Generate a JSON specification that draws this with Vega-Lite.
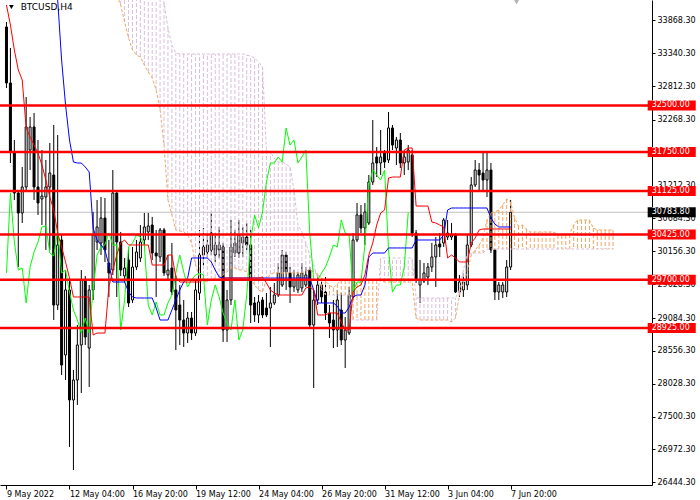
{
  "$schema": "https://vega.github.io/schema/vega-lite/v6.json",
  "width": 652,
  "height": 485,
  "autosize": {"type": "none"},
  "padding": {"left": 0, "top": 0, "right": 48, "bottom": 15},
  "background": "#ffffff",
  "config": {
    "view": {"stroke": null},
    "font": "DejaVu Sans",
    "axis": {"grid": false, "domainColor": "#000000", "tickColor": "#000000", "labelColor": "#000000", "labelFont": "DejaVu Sans", "labelFontSize": 8, "labelOverlap": false, "labelFlush": false}
  },
  "datasets": {
    "bars": [
      {"i":0,"o":33761,"h":33841,"l":32780,"c":32861,"tk":34114,"ck":29808},
      {"i":1,"o":32861,"h":33423,"l":31575,"c":31752,"tk":33793,"ck":31093},
      {"i":2,"o":31752,"h":31945,"l":30981,"c":31093,"tk":33391,"ck":30306},
      {"i":3,"o":31093,"h":31141,"l":29904,"c":30772,"tk":33070,"ck":29856},
      {"i":4,"o":30772,"h":31511,"l":30611,"c":31190,"tk":32909,"ck":29888},
      {"i":5,"o":31190,"h":32636,"l":31141,"c":32154,"tk":32138,"ck":29326},
      {"i":6,"o":31784,"h":32314,"l":31463,"c":32154,"tk":31993,"ck":29904},
      {"i":7,"o":32154,"h":32379,"l":30981,"c":31190,"tk":31865,"ck":30145},
      {"i":8,"o":31190,"h":31945,"l":30740,"c":30933,"tk":31736,"ck":30306},
      {"i":9,"o":30997,"h":31784,"l":30579,"c":31045,"tk":31543,"ck":30547},
      {"i":10,"o":31029,"h":31624,"l":30177,"c":31190,"tk":31302,"ck":30563},
      {"i":11,"o":31190,"h":31897,"l":30177,"c":31415,"tk":31029,"ck":30129},
      {"i":12,"o":31382,"h":32186,"l":29052,"c":29293,"tk":30820,"ck":30081},
      {"i":13,"o":29293,"h":32025,"l":29213,"c":30258,"tk":30450,"kj":34194,"ck":30499},
      {"i":14,"o":30338,"h":30418,"l":28169,"c":28329,"tk":30225,"kj":33230,"ck":29808},
      {"i":15,"o":28490,"h":29856,"l":28088,"c":29535,"tk":29985,"kj":32507,"ck":29856},
      {"i":16,"o":29535,"h":29695,"l":27012,"c":27767,"tk":29727,"kj":31945,"ck":29502},
      {"i":17,"o":27767,"h":28249,"l":26642,"c":28088,"tk":29422,"kj":31591,"ck":29213},
      {"i":18,"o":28088,"h":28972,"l":27687,"c":28651,"tk":29422,"kj":31575,"ck":29052},
      {"i":19,"o":28651,"h":29856,"l":27879,"c":29695,"tk":29422,"kj":31575,"ck":28843},
      {"i":20,"o":29695,"h":29760,"l":28651,"c":28779,"tk":29422,"kj":31511,"ck":29084},
      {"i":21,"o":28602,"h":29615,"l":27976,"c":29535,"tk":29422,"kj":31431,"ck":28843},
      {"i":22,"o":29535,"h":30788,"l":29374,"c":30418,"tk":28811,"kj":30531,"ck":29535},
      {"i":23,"o":30306,"h":30981,"l":30177,"c":30547,"tk":28843,"kj":30338,"ck":30097},
      {"i":24,"o":30290,"h":31029,"l":30097,"c":30691,"tk":28843,"kj":30258,"ck":30226},
      {"i":25,"o":30691,"h":31013,"l":29985,"c":30177,"tk":28843,"kj":30177,"ck":30258},
      {"i":26,"o":29968,"h":30338,"l":29422,"c":29808,"tk":29583,"kj":29936,"ck":30450},
      {"i":27,"o":29856,"h":31463,"l":29776,"c":31093,"tk":29856,"kj":29663,"ck":30258},
      {"i":28,"o":31093,"h":31141,"l":29422,"c":30306,"tk":30097,"kj":29663,"ck":30258,"sa":34275,"sb":34400},
      {"i":29,"o":30306,"h":30467,"l":29760,"c":29856,"tk":30290,"kj":29663,"ck":28892,"sa":34114,"sb":34400},
      {"i":30,"o":29760,"h":30049,"l":29663,"c":29888,"tk":30338,"kj":29663,"ck":29374,"sa":33841,"sb":34400},
      {"i":31,"o":30017,"h":30226,"l":29261,"c":29326,"tk":30258,"kj":29502,"ck":30226,"sa":33584,"sb":34400},
      {"i":32,"o":29374,"h":30226,"l":29326,"c":29904,"tk":30258,"kj":29422,"ck":30290,"sa":33391,"sb":34400},
      {"i":33,"o":29904,"h":30338,"l":29856,"c":30145,"tk":30258,"kj":29406,"ck":30418,"sa":33310,"sb":34400},
      {"i":34,"o":30049,"h":30579,"l":29985,"c":30306,"tk":30258,"kj":29406,"ck":30386,"sa":33278,"sb":34400},
      {"i":35,"o":30338,"h":30772,"l":30258,"c":30547,"tk":30258,"kj":29406,"ck":30258,"sa":33150,"sb":34400},
      {"i":36,"o":30467,"h":30772,"l":30338,"c":30563,"tk":30258,"kj":29406,"ck":29293,"sa":33038,"sb":34400},
      {"i":37,"o":30579,"h":30708,"l":30017,"c":30129,"tk":29936,"kj":29406,"ck":29133,"sa":32941,"sb":34400},
      {"i":38,"o":30129,"h":30499,"l":29422,"c":30081,"tk":29936,"kj":29245,"ck":29342,"sa":32748,"sb":34400},
      {"i":39,"o":30065,"h":30531,"l":29985,"c":30499,"tk":29936,"kj":29052,"ck":29133,"sa":32427,"sb":34300},
      {"i":40,"o":30499,"h":30531,"l":29760,"c":29808,"tk":29936,"kj":29052,"ck":29133,"sa":31865,"sb":34162},
      {"i":41,"o":29776,"h":30097,"l":29695,"c":29856,"tk":30097,"kj":29052,"ck":29326,"sa":30981,"sb":33745},
      {"i":42,"o":29888,"h":30290,"l":29454,"c":29502,"tk":30097,"kj":29213,"ck":29454,"sa":30740,"sb":33471},
      {"i":43,"o":29535,"h":29776,"l":28570,"c":29213,"tk":29743,"kj":29374,"ck":29808,"sa":30499,"sb":33343},
      {"i":44,"o":29293,"h":29615,"l":28651,"c":29052,"tk":29663,"kj":29535,"ck":30097,"sa":30483,"sb":33327},
      {"i":45,"o":29052,"h":29374,"l":28619,"c":28843,"tk":29663,"kj":29663,"ck":29824,"sa":30467,"sb":33327},
      {"i":46,"o":28843,"h":29181,"l":28683,"c":29084,"tk":29663,"kj":29727,"ck":29583,"sa":30418,"sb":33327},
      {"i":47,"o":29084,"h":29181,"l":28731,"c":28843,"tk":29663,"kj":30049,"ck":29695,"sa":30290,"sb":33327},
      {"i":48,"o":28843,"h":29695,"l":28795,"c":29535,"tk":29663,"kj":30049,"ck":29776,"sa":29936,"sb":33327},
      {"i":49,"o":29486,"h":30499,"l":29374,"c":30097,"tk":29663,"kj":30049,"ck":29808,"sa":29743,"sb":33327},
      {"i":50,"o":30097,"h":30531,"l":29936,"c":30226,"tk":29695,"kj":30049,"ck":29776,"sa":29679,"sb":33327},
      {"i":51,"o":30145,"h":30450,"l":30049,"c":30258,"tk":29695,"kj":30049,"ck":28972,"sa":29663,"sb":33327},
      {"i":52,"o":30177,"h":30772,"l":30097,"c":30450,"tk":29695,"kj":29985,"ck":29374,"sa":29695,"sb":33327},
      {"i":53,"o":30097,"h":30450,"l":29985,"c":30258,"tk":29695,"kj":29856,"ck":29615,"sa":29727,"sb":33327},
      {"i":54,"o":30177,"h":30547,"l":30049,"c":30258,"tk":29695,"kj":29743,"ck":29422,"sa":29727,"sb":33327},
      {"i":55,"o":30226,"h":30290,"l":28699,"c":28892,"tk":29727,"kj":29727,"ck":29165,"sa":29776,"sb":33327},
      {"i":56,"o":28892,"h":29535,"l":28699,"c":29374,"tk":29727,"kj":29727,"ck":29004,"sa":29824,"sb":33327},
      {"i":57,"o":29374,"h":30659,"l":29293,"c":30226,"tk":29727,"kj":29727,"ck":28892,"sa":29888,"sb":33327},
      {"i":58,"o":30129,"h":30499,"l":30065,"c":30290,"tk":29727,"kj":29727,"ck":29374,"sa":29888,"sb":33327},
      {"i":59,"o":30129,"h":30659,"l":30049,"c":30418,"tk":29727,"kj":29727,"ck":28731,"sa":29856,"sb":33327},
      {"i":60,"o":30290,"h":30547,"l":30065,"c":30386,"tk":29727,"kj":29727,"ck":28892,"sa":29856,"sb":33327},
      {"i":61,"o":30386,"h":30611,"l":30177,"c":30258,"tk":29727,"kj":29727,"ck":29454,"sa":29824,"sb":33310},
      {"i":62,"o":30258,"h":30499,"l":29004,"c":29293,"tk":29727,"kj":29727,"ck":30338,"sa":29727,"sb":33294},
      {"i":63,"o":29326,"h":29422,"l":29020,"c":29133,"tk":29727,"kj":29727,"ck":30740,"sa":29615,"sb":33262},
      {"i":64,"o":29133,"h":29454,"l":29004,"c":29342,"tk":29727,"kj":29727,"ck":30531,"sa":29535,"sb":33198},
      {"i":65,"o":29374,"h":29422,"l":29084,"c":29133,"tk":29743,"kj":29727,"ck":30788,"sa":29502,"sb":33118},
      {"i":66,"o":29245,"h":29486,"l":29100,"c":29133,"tk":29647,"kj":29727,"ck":31270,"sa":29695,"sb":31784},
      {"i":67,"o":29245,"h":29583,"l":28619,"c":29326,"tk":29535,"kj":29727,"ck":31575,"sa":29792,"sb":31752},
      {"i":68,"o":29326,"h":29647,"l":29293,"c":29454,"tk":29486,"kj":29727,"ck":31575,"sa":29808,"sb":31656},
      {"i":69,"o":29454,"h":29968,"l":29422,"c":29808,"tk":29454,"kj":29727,"ck":31672,"sa":29808,"sb":31591},
      {"i":70,"o":29615,"h":30177,"l":29583,"c":30097,"tk":29454,"kj":29727,"ck":31591,"sa":29808,"sb":31591},
      {"i":71,"o":30097,"h":30145,"l":29535,"c":29824,"tk":29454,"kj":29727,"ck":32138,"sa":29808,"sb":31559},
      {"i":72,"o":29808,"h":29904,"l":29326,"c":29583,"tk":29454,"kj":29727,"ck":31864,"sa":29808,"sb":31511},
      {"i":73,"o":29583,"h":29856,"l":29502,"c":29695,"tk":29454,"kj":29727,"ck":31945,"sa":29808,"sb":31141},
      {"i":74,"o":29535,"h":29824,"l":29486,"c":29776,"tk":29454,"kj":29727,"ck":31575,"sa":29808,"sb":30579},
      {"i":75,"o":29567,"h":29968,"l":29502,"c":29808,"tk":29454,"kj":29727,"ck":31672,"sa":29808,"sb":30467},
      {"i":76,"o":29615,"h":29904,"l":29583,"c":29776,"tk":29567,"kj":29727,"ck":31784,"sa":29840,"sb":30290},
      {"i":77,"o":29856,"h":29904,"l":28940,"c":28972,"tk":29583,"kj":29727,"ck":30450,"sa":29856,"sb":30097},
      {"i":78,"o":28972,"h":29535,"l":27960,"c":29374,"tk":29535,"kj":29535,"ck":29695,"sa":29824,"sb":29936},
      {"i":79,"o":29374,"h":29776,"l":29293,"c":29615,"tk":29133,"kj":29326,"ck":29695,"sa":29792,"sb":29727},
      {"i":80,"o":29615,"h":29727,"l":29326,"c":29422,"tk":29133,"kj":29326,"ck":29808,"sa":29727,"sb":29535},
      {"i":81,"o":29502,"h":29743,"l":29052,"c":29165,"tk":29133,"kj":29326,"ck":29904,"sa":29679,"sb":29454},
      {"i":82,"o":29165,"h":29293,"l":28763,"c":29004,"tk":29165,"kj":29326,"ck":30065,"sa":29615,"sb":29454},
      {"i":83,"o":29052,"h":29374,"l":28602,"c":28892,"tk":29165,"kj":29326,"ck":30258,"sa":29567,"sb":29454},
      {"i":84,"o":28892,"h":29535,"l":28619,"c":29374,"tk":29165,"kj":29277,"ck":30226,"sa":29631,"sb":29454},
      {"i":85,"o":29213,"h":29486,"l":28651,"c":28731,"tk":29020,"kj":29165,"ck":30659,"sa":29695,"sb":29454},
      {"i":86,"o":28731,"h":29100,"l":28281,"c":28892,"tk":28892,"kj":29165,"ck":30450,"sa":29695,"sb":29454},
      {"i":87,"o":28843,"h":29583,"l":28811,"c":29454,"tk":28892,"kj":29261,"ck":30418,"sa":29695,"sb":29454},
      {"i":88,"o":29422,"h":30450,"l":29374,"c":30338,"tk":29502,"kj":29422,"ck":29502,"sa":29695,"sb":29052},
      {"i":89,"o":30338,"h":30933,"l":30306,"c":30740,"tk":29583,"kj":29454,"ck":29663,"sa":29631,"sb":29052},
      {"i":90,"o":30740,"h":30900,"l":30450,"c":30531,"tk":29615,"kj":29454,"ck":29663,"sa":29663,"sb":29052},
      {"i":91,"o":30531,"h":30933,"l":30258,"c":30788,"tk":29776,"kj":29615,"ck":30258,"sa":29695,"sb":29052},
      {"i":92,"o":30611,"h":31382,"l":30579,"c":31270,"tk":30097,"kj":30065,"ck":31222,"sa":29695,"sb":29052},
      {"i":93,"o":31270,"h":32266,"l":31222,"c":31575,"tk":30290,"kj":30129,"ck":31463,"sa":29695,"sb":29052},
      {"i":94,"o":31672,"h":31832,"l":31350,"c":31575,"tk":30579,"kj":30129,"ck":31382,"sa":29695,"sb":29052},
      {"i":95,"o":31575,"h":32106,"l":31382,"c":31672,"tk":30772,"kj":30129,"ck":31302,"sa":29679,"sb":30049},
      {"i":96,"o":31736,"h":31784,"l":31495,"c":31591,"tk":30820,"kj":30129,"ck":31463,"sa":29663,"sb":30049},
      {"i":97,"o":31624,"h":32395,"l":31575,"c":32138,"tk":31334,"kj":30210,"ck":30177,"sa":29663,"sb":30049},
      {"i":98,"o":32138,"h":32186,"l":31784,"c":31864,"tk":31350,"kj":30210,"ck":29502,"sa":29663,"sb":30049},
      {"i":99,"o":31816,"h":31993,"l":31543,"c":31945,"tk":31350,"kj":30210,"ck":29615,"sa":29663,"sb":30049},
      {"i":100,"o":31945,"h":32057,"l":31495,"c":31575,"tk":31350,"kj":30210,"ck":29615,"sa":29663,"sb":30049},
      {"i":101,"o":31575,"h":31752,"l":31382,"c":31672,"tk":31784,"kj":30210,"ck":29904,"sa":29663,"sb":30049},
      {"i":102,"o":31591,"h":31864,"l":31463,"c":31784,"tk":31816,"kj":30210,"ck":30784,"sa":29663,"sb":30049},
      {"i":103,"o":31704,"h":31784,"l":30386,"c":30450,"tk":31816,"kj":30210,"sa":29663,"sb":30049},
      {"i":104,"o":30450,"h":30499,"l":29647,"c":29695,"tk":30884,"kj":30338,"sa":29084,"sb":29406},
      {"i":105,"o":29615,"h":30017,"l":29326,"c":29695,"tk":30884,"kj":30338,"sa":29052,"sb":29406},
      {"i":106,"o":29679,"h":29968,"l":29647,"c":29808,"tk":30884,"kj":30338,"sa":29052,"sb":29406},
      {"i":107,"o":29743,"h":29968,"l":29615,"c":29904,"tk":30884,"kj":30338,"sa":29052,"sb":29406},
      {"i":108,"o":29904,"h":30290,"l":29824,"c":30065,"tk":30627,"kj":30338,"sa":29052,"sb":29406},
      {"i":109,"o":30065,"h":30386,"l":29583,"c":30258,"tk":30611,"kj":30338,"sa":29052,"sb":29406},
      {"i":110,"o":30274,"h":30450,"l":30065,"c":30226,"tk":30579,"kj":30338,"sa":29052,"sb":29406},
      {"i":111,"o":30290,"h":30691,"l":30226,"c":30659,"tk":30547,"kj":30418,"sa":29052,"sb":29406},
      {"i":112,"o":30386,"h":30659,"l":30338,"c":30450,"tk":30049,"kj":30820,"sa":29052,"sb":29406},
      {"i":113,"o":30386,"h":30611,"l":30338,"c":30418,"tk":30097,"kj":30852,"sa":29020,"sb":29406},
      {"i":114,"o":30418,"h":30450,"l":29486,"c":29502,"tk":30049,"kj":30852,"sa":29084,"sb":29406},
      {"i":115,"o":29502,"h":29776,"l":29422,"c":29663,"tk":29985,"kj":30852,"sa":29454,"sb":29535},
      {"i":116,"o":29535,"h":29808,"l":29422,"c":29663,"tk":29985,"kj":30852,"sa":29647,"sb":29856},
      {"i":117,"o":29615,"h":30418,"l":29535,"c":30258,"tk":29985,"kj":30852,"sa":29824,"sb":30097},
      {"i":118,"o":30258,"h":31350,"l":30226,"c":31222,"tk":30290,"kj":30852,"sa":30097,"sb":30129},
      {"i":119,"o":31222,"h":31624,"l":31190,"c":31463,"tk":30370,"kj":30852,"sa":30177,"sb":30129},
      {"i":120,"o":31463,"h":31575,"l":31141,"c":31382,"tk":30499,"kj":30852,"sa":30258,"sb":30129},
      {"i":121,"o":31415,"h":31752,"l":31141,"c":31302,"tk":30515,"kj":30852,"sa":30370,"sb":30129},
      {"i":122,"o":31302,"h":31736,"l":31029,"c":31463,"tk":30515,"kj":30852,"sa":30659,"sb":30193},
      {"i":123,"o":31463,"h":31575,"l":30129,"c":30177,"tk":30515,"kj":30691,"sa":30772,"sb":30193},
      {"i":124,"o":30177,"h":30177,"l":29374,"c":29502,"tk":30515,"kj":30595,"sa":30788,"sb":30193},
      {"i":125,"o":29502,"h":29663,"l":29374,"c":29615,"tk":30515,"kj":30547,"sa":30820,"sb":30193},
      {"i":126,"o":29502,"h":29663,"l":29406,"c":29615,"tk":30515,"kj":30547,"sa":30900,"sb":30193},
      {"i":127,"o":29502,"h":30017,"l":29422,"c":29904,"tk":30515,"kj":30547,"sa":30997,"sb":30193},
      {"i":128,"o":29904,"h":30981,"l":29856,"c":30783.8,"tk":30515,"kj":30547,"sa":30949,"sb":30193},
      {"i":129,"sa":30691,"sb":30193},
      {"i":130,"sa":30563,"sb":30193},
      {"i":131,"sa":30579,"sb":30193},
      {"i":132,"sa":30515,"sb":30193},
      {"i":133,"sa":30467,"sb":30193},
      {"i":134,"sa":30467,"sb":30193},
      {"i":135,"sa":30467,"sb":30193},
      {"i":136,"sa":30467,"sb":30193},
      {"i":137,"sa":30467,"sb":30193},
      {"i":138,"sa":30467,"sb":30193},
      {"i":139,"sa":30467,"sb":30193},
      {"i":140,"sa":30418,"sb":30193},
      {"i":141,"sa":30418,"sb":30193},
      {"i":142,"sa":30418,"sb":30193},
      {"i":143,"sa":30434,"sb":30193},
      {"i":144,"sa":30579,"sb":30193},
      {"i":145,"sa":30659,"sb":30193},
      {"i":146,"sa":30659,"sb":30193},
      {"i":147,"sa":30659,"sb":30193},
      {"i":148,"sa":30659,"sb":30193},
      {"i":149,"sa":30531,"sb":30193},
      {"i":150,"sa":30499,"sb":30193},
      {"i":151,"sa":30499,"sb":30193},
      {"i":152,"sa":30499,"sb":30193},
      {"i":153,"sa":30499,"sb":30193},
      {"i":154,"sa":30499,"sb":30193}
    ],
    "levels": [
      {"level": 32500},
      {"level": 31750},
      {"level": 31125},
      {"level": 30425},
      {"level": 29700},
      {"level": 28925}
    ],
    "price": [{"level": 30783.8}],
    "caption": [{"name": "BTCUSD,H4"}]
  },
  "data": {"name": "bars"},
  "layer": [
    {
      "data": {"name": "price"},
      "mark": {"type": "rule", "color": "#c0c0c0", "strokeWidth": 1},
      "encoding": {
        "y": {
          "field": "level", "type": "quantitative",
          "scale": {"domain": [26401, 34194.5], "nice": false, "zero": false},
          "axis": {
            "orient": "right", "title": null, "grid": false, "tickCount": 40,
            "values": [33868.3, 33340.3, 32812.3, 32268.3, 31740.3, 31212.3, 30684.3, 30156.3, 29628.3, 29084.3, 28556.3, 28028.3, 27500.3, 26972.3, 26444.3],
            "format": ".2f",
            "domainColor": "#000000", "tickColor": "#000000", "tickSize": 3,
            "labelPadding": 2, "labelFont": "DejaVu Sans", "labelFontSize": 8,
            "labelColor": "#000000", "labelFlush": false, "labelOverlap": false
          }
        }
      }
    },
    {
      "transform": [{"filter": "isValid(datum.o)"}],
      "mark": {"type": "rule", "color": "#000000", "strokeWidth": 1},
      "encoding": {
        "x": {
          "field": "i", "type": "quantitative",
          "scale": {"domain": [-0.375, 162.625], "nice": false, "zero": false},
          "axis": {
            "orient": "bottom", "title": null, "grid": false, "tickCount": 40,
            "values": [0, 16, 32, 48, 64, 80, 96, 112, 128],
            "labelExpr": "['9 May 2022','12 May 04:00','16 May 20:00','19 May 12:00','24 May 04:00','26 May 20:00','31 May 12:00','3 Jun 04:00','7 Jun 20:00'][round(datum.value / 16)]",
            "domainColor": "#000000", "tickColor": "#000000", "tickSize": 4,
            "labelAlign": "left", "labelBaseline": "top", "labelPadding": 1,
            "labelFont": "DejaVu Sans", "labelFontSize": 8, "labelColor": "#000000",
            "labelFlush": false, "labelOverlap": false
          }
        },
        "y": {"field": "l", "type": "quantitative", "scale": {"domain": [26401, 34194.5], "nice": false, "zero": false}},
        "y2": {"field": "h"}
      }
    },
    {
      "transform": [{"filter": "isValid(datum.o)"}],
      "mark": {"type": "bar", "width": 2, "stroke": "#000000", "strokeWidth": 1},
      "encoding": {
        "x": {"field": "i", "type": "quantitative", "scale": {"domain": [-0.375, 162.625], "nice": false, "zero": false}},
        "y": {"field": "o", "type": "quantitative", "scale": {"domain": [26401, 34194.5], "nice": false, "zero": false}},
        "y2": {"field": "c"},
        "fill": {"condition": {"test": "datum.c < datum.o", "value": "#000000"}, "value": "#ffffff"}
      }
    },
    {
      "transform": [{"filter": "isValid(datum.sa) && isValid(datum.sb)"}],
      "mark": {"type": "rule", "strokeWidth": 1, "strokeDash": [4, 2], "clip": true},
      "encoding": {
        "x": {"field": "i", "type": "quantitative", "scale": {"domain": [-0.375, 162.625], "nice": false, "zero": false}},
        "y": {"field": "sa", "type": "quantitative", "scale": {"domain": [26401, 34194.5], "nice": false, "zero": false}},
        "y2": {"field": "sb"},
        "color": {"condition": {"test": "datum.sa > datum.sb", "value": "#f4a460"}, "value": "#d8bfd8"}
      }
    },
    {
      "transform": [{"filter": "isValid(datum.sa)"}],
      "mark": {"type": "line", "color": "#f4a460", "strokeWidth": 1, "strokeDash": [3, 2], "clip": true},
      "encoding": {
        "x": {"field": "i", "type": "quantitative", "scale": {"domain": [-0.375, 162.625], "nice": false, "zero": false}},
        "y": {"field": "sa", "type": "quantitative", "scale": {"domain": [26401, 34194.5], "nice": false, "zero": false}}
      }
    },
    {
      "transform": [{"filter": "isValid(datum.sb)"}],
      "mark": {"type": "line", "color": "#d8bfd8", "strokeWidth": 1, "strokeDash": [3, 2], "clip": true},
      "encoding": {
        "x": {"field": "i", "type": "quantitative", "scale": {"domain": [-0.375, 162.625], "nice": false, "zero": false}},
        "y": {"field": "sb", "type": "quantitative", "scale": {"domain": [26401, 34194.5], "nice": false, "zero": false}}
      }
    },
    {
      "transform": [{"filter": "isValid(datum.ck)"}],
      "mark": {"type": "line", "color": "#00ff00", "strokeWidth": 1, "clip": true},
      "encoding": {
        "x": {"field": "i", "type": "quantitative", "scale": {"domain": [-0.375, 162.625], "nice": false, "zero": false}},
        "y": {"field": "ck", "type": "quantitative", "scale": {"domain": [26401, 34194.5], "nice": false, "zero": false}}
      }
    },
    {
      "transform": [{"filter": "isValid(datum.kj)"}],
      "mark": {"type": "line", "color": "#0000ff", "strokeWidth": 1, "clip": true},
      "encoding": {
        "x": {"field": "i", "type": "quantitative", "scale": {"domain": [-0.375, 162.625], "nice": false, "zero": false}},
        "y": {"field": "kj", "type": "quantitative", "scale": {"domain": [26401, 34194.5], "nice": false, "zero": false}}
      }
    },
    {
      "transform": [{"filter": "isValid(datum.tk)"}],
      "mark": {"type": "line", "color": "#ff0000", "strokeWidth": 1, "clip": true},
      "encoding": {
        "x": {"field": "i", "type": "quantitative", "scale": {"domain": [-0.375, 162.625], "nice": false, "zero": false}},
        "y": {"field": "tk", "type": "quantitative", "scale": {"domain": [26401, 34194.5], "nice": false, "zero": false}}
      }
    },
    {
      "data": {"name": "levels"},
      "mark": {"type": "rule", "color": "#ff0000", "strokeWidth": 2.5},
      "encoding": {
        "y": {"field": "level", "type": "quantitative", "scale": {"domain": [26401, 34194.5], "nice": false, "zero": false}}
      }
    },
    {
      "data": {"name": "levels"},
      "mark": {"type": "rect", "color": "#ff0000", "yOffset": -5, "y2Offset": 5},
      "encoding": {
        "x": {"datum": 162.8, "type": "quantitative", "scale": {"domain": [-0.375, 162.625], "nice": false, "zero": false}},
        "x2": {"datum": 175},
        "y": {"field": "level", "type": "quantitative", "scale": {"domain": [26401, 34194.5], "nice": false, "zero": false}},
        "y2": {"field": "level"}
      }
    },
    {
      "data": {"name": "levels"},
      "mark": {"type": "text", "color": "#ffffff", "align": "left", "baseline": "middle", "font": "DejaVu Sans", "fontSize": 8},
      "encoding": {
        "x": {"datum": 163.8, "type": "quantitative", "scale": {"domain": [-0.375, 162.625], "nice": false, "zero": false}},
        "y": {"field": "level", "type": "quantitative", "scale": {"domain": [26401, 34194.5], "nice": false, "zero": false}},
        "text": {"field": "level", "type": "quantitative", "format": ".2f"}
      }
    },
    {
      "data": {"name": "price"},
      "mark": {"type": "rect", "color": "#000000", "yOffset": -5, "y2Offset": 5},
      "encoding": {
        "x": {"datum": 162.8, "type": "quantitative", "scale": {"domain": [-0.375, 162.625], "nice": false, "zero": false}},
        "x2": {"datum": 175},
        "y": {"field": "level", "type": "quantitative", "scale": {"domain": [26401, 34194.5], "nice": false, "zero": false}},
        "y2": {"field": "level"}
      }
    },
    {
      "data": {"name": "price"},
      "mark": {"type": "text", "color": "#ffffff", "align": "left", "baseline": "middle", "font": "DejaVu Sans", "fontSize": 8},
      "encoding": {
        "x": {"datum": 163.8, "type": "quantitative", "scale": {"domain": [-0.375, 162.625], "nice": false, "zero": false}},
        "y": {"field": "level", "type": "quantitative", "scale": {"domain": [26401, 34194.5], "nice": false, "zero": false}},
        "text": {"field": "level", "type": "quantitative", "format": ".2f"}
      }
    },
    {
      "data": {"name": "caption"},
      "mark": {"type": "text", "color": "#000000", "align": "left", "baseline": "middle", "font": "DejaVu Sans", "fontSize": 9},
      "encoding": {
        "x": {"datum": 3.6, "type": "quantitative", "scale": {"domain": [-0.375, 162.625], "nice": false, "zero": false}},
        "y": {"datum": 34082, "type": "quantitative", "scale": {"domain": [26401, 34194.5], "nice": false, "zero": false}},
        "text": {"field": "name"}
      }
    },
    {
      "data": {"name": "caption"},
      "mark": {"type": "point", "shape": "triangle-down", "filled": true, "color": "#000000", "opacity": 1, "size": 22},
      "encoding": {
        "x": {"datum": 1.25, "type": "quantitative", "scale": {"domain": [-0.375, 162.625], "nice": false, "zero": false}},
        "y": {"datum": 34082, "type": "quantitative", "scale": {"domain": [26401, 34194.5], "nice": false, "zero": false}}
      }
    },
    {
      "data": {"name": "caption"},
      "mark": {"type": "point", "shape": "triangle-down", "filled": true, "color": "#b4b4b4", "opacity": 1, "size": 60},
      "encoding": {
        "x": {"datum": 129.5, "type": "quantitative", "scale": {"domain": [-0.375, 162.625], "nice": false, "zero": false}},
        "y": {"datum": 34178, "type": "quantitative", "scale": {"domain": [26401, 34194.5], "nice": false, "zero": false}}
      }
    }
  ]
}
